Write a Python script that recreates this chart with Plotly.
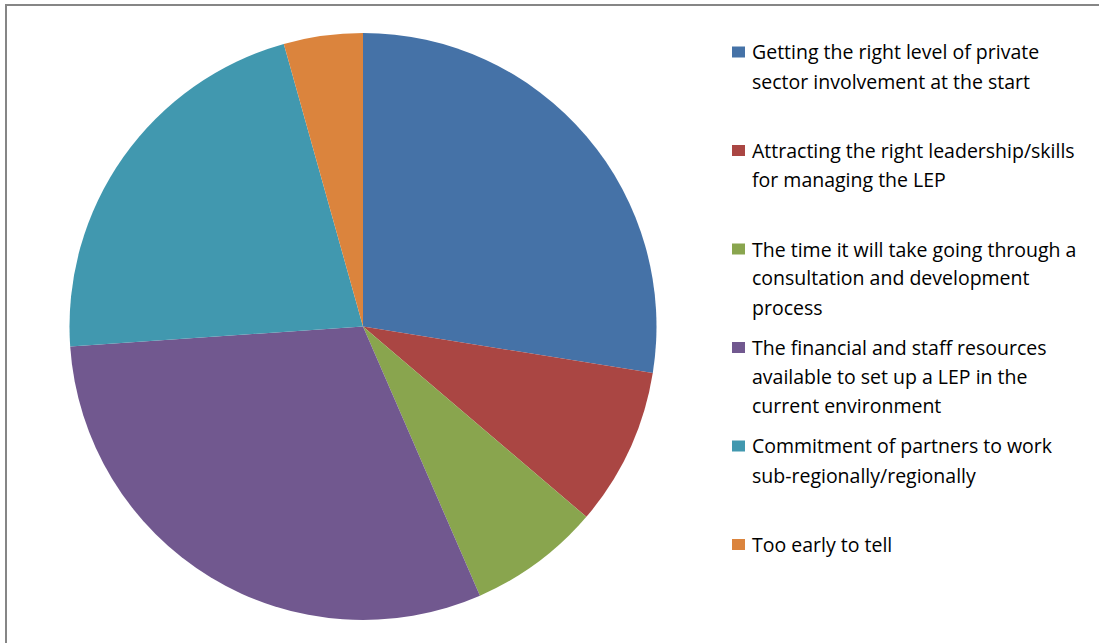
import plotly.graph_objects as go

# Survey responses: main challenges in setting up a LEP
labels = [
    "Getting the right level of private<br>sector involvement at the start",
    "Attracting the right leadership/skills<br>for managing the LEP",
    "The time it will take going through a<br>consultation and development<br>process",
    "The financial and staff resources<br>available to set up a LEP in the<br>current environment",
    "Commitment of partners to work<br>sub-regionally/regionally",
    "Too early to tell",
]
responses = [19, 6, 5, 21, 15, 3]
colors = ["#4572A7", "#AA4643", "#89A54E", "#71588F", "#4198AF", "#DB843D"]

W, H = 1099, 643

# pie placement in pixels
cx0, cx1 = 69, 657
cy0, cy1 = 33, 620

fig = go.Figure(
    go.Pie(
        labels=[l.replace("<br>", " ") for l in labels],
        values=responses,
        marker=dict(colors=colors, line=dict(width=0)),
        sort=False,
        direction="clockwise",
        rotation=0,
        textinfo="none",
        hoverinfo="label+value+percent",
        showlegend=False,
        domain=dict(x=[cx0 / W, cx1 / W], y=[1 - cy1 / H, 1 - cy0 / H]),
    )
)

# custom legend: colour square plus wrapped text, evenly spaced entries
font_family = "Open Sans"
font_size = 19.5
leg_top = 52
item_gap = 98.5
line_gap = 29
sq_w, sq_h = 13, 11
sq_x = 732
text_x = 750

shapes = []
annotations = []
for i, (lab, col) in enumerate(zip(labels, colors)):
    y0 = leg_top + i * item_gap
    shapes.append(dict(
        type="rect", xref="paper", yref="paper",
        x0=sq_x / W, x1=(sq_x + sq_w) / W,
        y0=1 - (y0 + sq_h / 2) / H, y1=1 - (y0 - sq_h / 2) / H,
        fillcolor=col, line=dict(width=0),
    ))
    for j, line in enumerate(lab.split("<br>")):
        annotations.append(dict(
            xref="paper", yref="paper",
            x=text_x / W, y=1 - (y0 + j * line_gap) / H,
            xanchor="left", yanchor="middle",
            text=line, showarrow=False,
            font=dict(family=font_family, size=font_size, color="#000000"),
        ))

# chart area frame
shapes.append(dict(
    type="rect", xref="paper", yref="paper",
    x0=6 / W, x1=1.02, y0=-0.02, y1=1 - 5 / H,
    line=dict(color="#868686", width=2), fillcolor="rgba(0,0,0,0)",
))

fig.update_layout(
    width=W, height=H,
    margin=dict(l=0, r=0, t=0, b=0),
    paper_bgcolor="white",
    plot_bgcolor="white",
    shapes=shapes,
    annotations=annotations,
)

fig.write_html("out.html")
